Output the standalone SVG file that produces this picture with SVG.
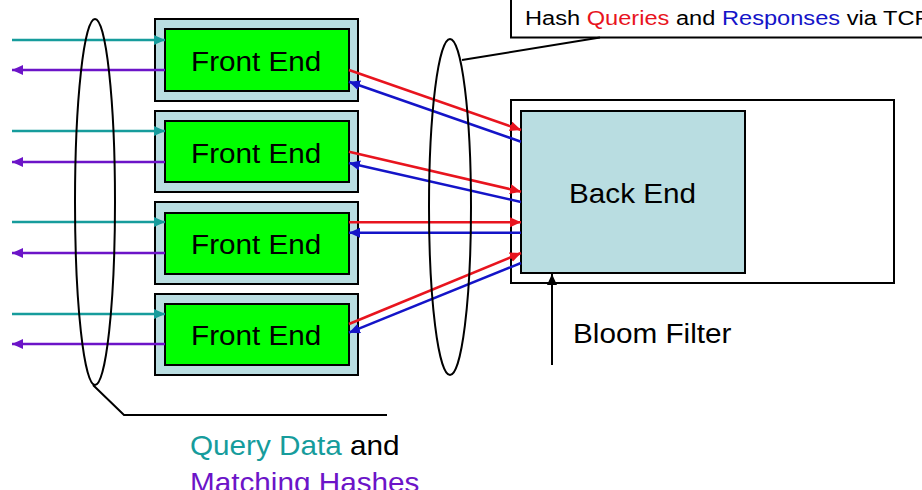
<svg xmlns="http://www.w3.org/2000/svg" width="922" height="490" viewBox="0 0 922 490">
<defs>
<style>
.outer{fill:#b9dde1;stroke:#000;stroke-width:2}
.inner{fill:#00ff00;stroke:#000;stroke-width:2}
.lbl{font-family:"Liberation Sans",Arial,sans-serif;font-size:27.5px;fill:#000}
.sm{font-family:"Liberation Sans",Arial,sans-serif;font-size:21px;fill:#000}
.ell{fill:none;stroke:#000;stroke-width:2}
.teal{stroke:#169c9c;stroke-width:2.5;fill:none;marker-end:url(#aT)}
.purp{stroke:#6c14c8;stroke-width:2.5;fill:none;marker-end:url(#aP)}
.red{stroke:#e8141e;stroke-width:2.5;fill:none;marker-end:url(#aR)}
.blue{stroke:#1414c8;stroke-width:2.5;fill:none;marker-end:url(#aB)}
.blk{stroke:#000;stroke-width:2;fill:none}
.cT{fill:#169c9c}
.cP{fill:#6c14c8}
.cR{fill:#e8141e}
.cB{fill:#1414c8}
</style>
<marker id="aT" markerUnits="userSpaceOnUse" markerWidth="12" markerHeight="11" refX="11" refY="5" orient="auto"><path d="M0,0 L11,5 L0,10 z" fill="#169c9c"/></marker>
<marker id="aP" markerUnits="userSpaceOnUse" markerWidth="12" markerHeight="11" refX="11" refY="5" orient="auto"><path d="M0,0 L11,5 L0,10 z" fill="#6c14c8"/></marker>
<marker id="aR" markerUnits="userSpaceOnUse" markerWidth="12" markerHeight="11" refX="11" refY="5" orient="auto"><path d="M0,0 L11,5 L0,10 z" fill="#e8141e"/></marker>
<marker id="aB" markerUnits="userSpaceOnUse" markerWidth="12" markerHeight="11" refX="11" refY="5" orient="auto"><path d="M0,0 L11,5 L0,10 z" fill="#1414c8"/></marker>
<marker id="aK" markerUnits="userSpaceOnUse" markerWidth="12" markerHeight="11" refX="11" refY="5" orient="auto"><path d="M0,0 L11,5 L0,10 z" fill="#000"/></marker>
</defs>
<rect width="922" height="490" fill="#fff"/>

<g id="hash-label">
<rect x="511" y="-10" width="420" height="47.5" fill="#fff" stroke="#000" stroke-width="2"/>
<text class="sm" transform="translate(525,25) scale(1.125,1)">Hash <tspan class="cR">Queries</tspan> and <tspan class="cB">Responses</tspan> via TCP</text>
</g>

<g id="backend">
<rect x="511" y="100" width="383" height="183" fill="#fff" stroke="#000" stroke-width="2"/>
<rect x="521" y="111" width="224" height="162" class="outer"/>
<text class="lbl" transform="translate(569,203) scale(1.08,1)">Back End</text>
</g>

<g id="fe1">
<rect x="155" y="19" width="203" height="82" class="outer"/>
<rect x="165" y="29" width="184" height="62" class="inner"/>
<text class="lbl" transform="translate(191,71) scale(1.08,1)">Front End</text>
</g>
<g id="fe2">
<rect x="155" y="111" width="203" height="81" class="outer"/>
<rect x="165" y="121" width="184" height="61" class="inner"/>
<text class="lbl" transform="translate(191,162.5) scale(1.08,1)">Front End</text>
</g>
<g id="fe3">
<rect x="155" y="202" width="203" height="82" class="outer"/>
<rect x="165" y="213" width="184" height="61" class="inner"/>
<text class="lbl" transform="translate(191,253.5) scale(1.08,1)">Front End</text>
</g>
<g id="fe4">
<rect x="155" y="294" width="203" height="81" class="outer"/>
<rect x="165" y="304" width="184" height="61" class="inner"/>
<text class="lbl" transform="translate(191,345) scale(1.08,1)">Front End</text>
</g>

<g id="bloom">
<text class="lbl" transform="translate(573,343) scale(1.08,1)">Bloom Filter</text>
</g>

<g id="query-label">
<text class="lbl" transform="translate(190,455) scale(1.08,1)"><tspan class="cT">Query Data</tspan> and</text>
<text class="lbl cP" transform="translate(190,492) scale(1.08,1)">Matching Hashes</text>
</g>

<g id="connectors">
<line class="teal" x1="12" y1="40" x2="165" y2="40"/>
<line class="purp" x1="165" y1="70" x2="12" y2="70"/>
<line class="teal" x1="12" y1="131" x2="165" y2="131"/>
<line class="purp" x1="165" y1="162" x2="12" y2="162"/>
<line class="teal" x1="12" y1="222" x2="165" y2="222"/>
<line class="purp" x1="165" y1="253" x2="12" y2="253"/>
<line class="teal" x1="12" y1="314" x2="165" y2="314"/>
<line class="purp" x1="165" y1="344" x2="12" y2="344"/>

<line class="red" x1="349" y1="70" x2="521" y2="130"/>
<line class="blue" x1="521" y1="141.7" x2="349" y2="81.7"/>
<line class="red" x1="349" y1="151.7" x2="521" y2="191.7"/>
<line class="blue" x1="521" y1="202" x2="349" y2="163"/>
<line class="red" x1="349" y1="222.3" x2="521" y2="222.3"/>
<line class="blue" x1="521" y1="232.7" x2="349" y2="232.7"/>
<line class="red" x1="349" y1="324" x2="521" y2="253"/>
<line class="blue" x1="521" y1="263" x2="349" y2="332.7"/>

<line x1="552" y1="365" x2="552" y2="274" stroke="#000" stroke-width="2" marker-end="url(#aK)"/>

<ellipse class="ell" cx="95" cy="202" rx="20" ry="183"/>
<ellipse class="ell" cx="450" cy="207" rx="21" ry="168"/>
<polyline class="blk" points="93,385 124,415 387,415"/>
<line class="blk" x1="600" y1="37.5" x2="462" y2="60"/>
</g>
</svg>
